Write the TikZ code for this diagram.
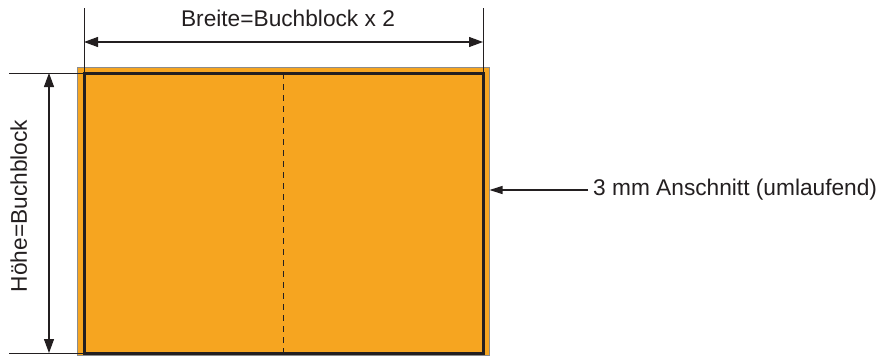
\documentclass[tikz,border=0pt]{standalone}
\usepackage{fontspec}
\setmainfont{Liberation Sans}
\usetikzlibrary{arrows.meta}
\definecolor{bleedorange}{HTML}{F6A520}
\definecolor{inkdark}{HTML}{231F20}
\begin{document}
\begin{tikzpicture}[x=1pt,y=-1pt,
  lbl/.style={font=\fontsize{22.7}{27}\selectfont, inner sep=0pt, text=inkdark},
  dimline/.style={line width=1.1pt, draw=inkdark, {Triangle[length=14pt,width=10pt]}-{Triangle[length=14pt,width=10pt]}},
  noteline/.style={line width=1.1pt, draw=inkdark, -{Triangle[length=13pt,width=8pt]}},
  ext/.style={line width=1pt, draw=inkdark},
  bleedbox/.style={draw=black!45, line width=0.8pt, fill=bleedorange, inner sep=0pt, outer sep=0pt, anchor=north west},
  blockbox/.style={draw=inkdark, line width=3pt, inner sep=0pt, outer sep=0pt, anchor=north west},
  fold/.style={draw=inkdark, line width=1.3pt, dash pattern=on 6pt off 5pt}
]
\useasboundingbox (0,0) rectangle (878,356);

% bleed (orange) and book block
\node[bleedbox, minimum width=412pt, minimum height=288pt] (bleed) at (77,67) {};
\node[blockbox, minimum width=399pt, minimum height=280pt] (block) at (84,73) {};
\draw[fold] (block.north) -- (block.south);

% width dimension
\coordinate (wL) at (84,8);
\coordinate (wR) at (483,8);
\coordinate (wa) at (84,42);
\coordinate (wb) at (483,42);
\draw[ext] (block.north west) -- (wL);
\draw[ext] (block.north east) -- (wR);
\draw[dimline] (wa) -- (wb);
\node[lbl, anchor=base] (wlabel) at (288,26) {Breite=Buchblock x 2};

% height dimension
\coordinate (hT) at (9,73);
\coordinate (hB) at (9,353);
\coordinate (ha) at (49,73);
\coordinate (hb) at (49,353);
\draw[ext] (hT) -- (block.north west);
\draw[ext] (hB) -- (block.south west);
\draw[dimline] (ha) -- (hb);
\node[lbl, anchor=base, rotate=90] (hlabel) at (27,206) {Höhe=Buchblock};

% bleed note
\node[lbl, anchor=base west] (note) at (593,195) {3 mm Anschnitt (umlaufend)};
\coordinate (ntail) at (588,190);
\coordinate (ntip) at (489.5,190);
\draw[noteline] (ntail) -- (ntip);
\end{tikzpicture}
\end{document}
